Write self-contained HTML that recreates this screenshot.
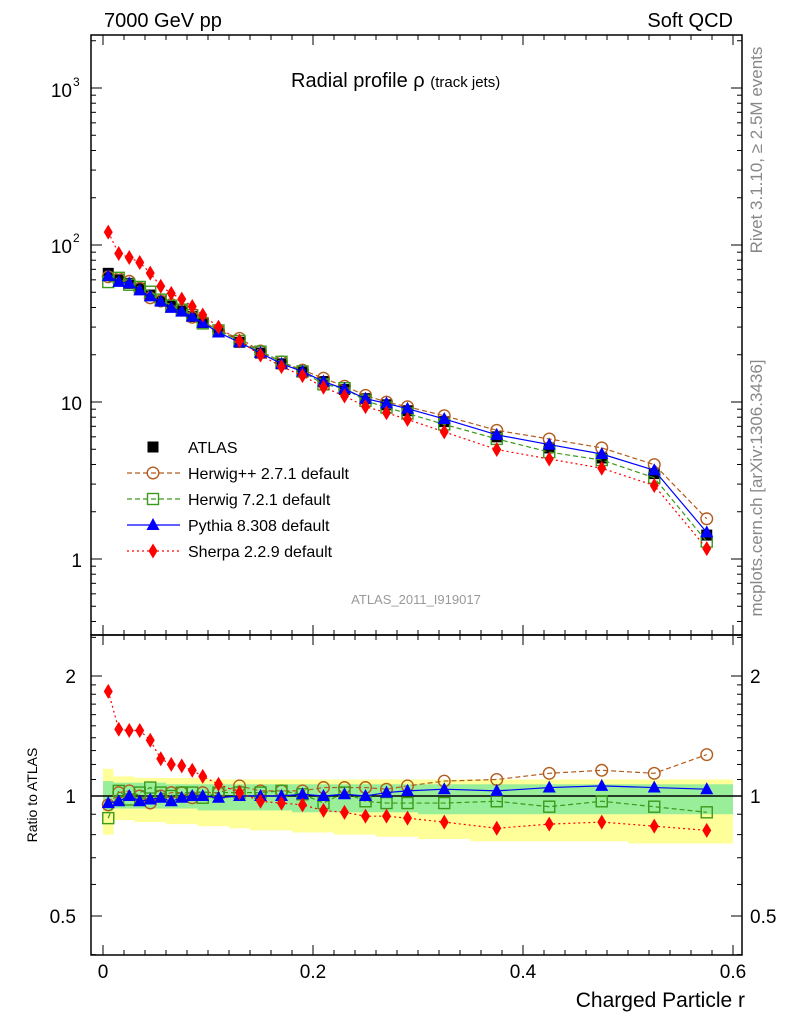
<!DOCTYPE html>
<html><head><meta charset="utf-8"><style>
body{margin:0;background:#fff;}
svg{display:block;font-family:"Liberation Sans",sans-serif;}
</style></head><body>
<svg id="c" width="786" height="1024" xmlns="http://www.w3.org/2000/svg"></svg>
<script>
const xs=[0.005,0.015,0.025,0.035,0.045,0.055,0.065,0.075,0.085,0.095,0.11,0.13,0.15,0.17,0.19,0.21,0.23,0.25,0.27,0.29,0.325,0.375,0.425,0.475,0.525,0.575];
const edges=[0,0.01,0.02,0.03,0.04,0.05,0.06,0.07,0.08,0.09,0.1,0.12,0.14,0.16,0.18,0.2,0.22,0.24,0.26,0.28,0.3,0.35,0.4,0.45,0.5,0.55,0.6];
const atlas=[66,60,57,53,48,44,41,38,35,32,28,24,20.5,17.5,15.5,13.5,12,10.5,9.6,8.8,7.5,6.0,5.1,4.4,3.5,1.42];
const rHpp=[0.95,1.02,1.03,1.0,0.96,1.0,1.02,1.02,0.99,1.02,1.02,1.06,1.03,1.03,1.03,1.05,1.05,1.05,1.04,1.06,1.09,1.1,1.14,1.16,1.14,1.27];
const rH7=[0.88,1.03,0.98,1.02,1.05,1.02,1.0,1.02,1.02,0.99,1.02,1.02,1.02,1.03,1.01,0.96,1.02,0.97,0.96,0.96,0.96,0.97,0.94,0.97,0.94,0.91];
const rPy=[0.96,0.97,1.0,0.97,0.98,0.99,0.97,0.99,1.0,1.0,0.99,1.0,1.0,1.0,1.01,1.0,1.01,1.0,1.02,1.03,1.04,1.03,1.05,1.06,1.05,1.04];
const rSh=[1.83,1.47,1.46,1.46,1.38,1.24,1.2,1.19,1.16,1.12,1.07,1.02,0.97,0.96,0.95,0.92,0.91,0.89,0.89,0.88,0.86,0.83,0.85,0.86,0.84,0.82];
const yHi=[1.17,1.12,1.12,1.11,1.11,1.11,1.11,1.11,1.11,1.11,1.1,1.1,1.1,1.1,1.1,1.1,1.1,1.1,1.1,1.1,1.1,1.1,1.1,1.1,1.1,1.1];
const yLo=[0.80,0.87,0.87,0.86,0.86,0.86,0.85,0.85,0.85,0.84,0.84,0.83,0.82,0.82,0.81,0.81,0.80,0.80,0.79,0.79,0.78,0.77,0.77,0.77,0.76,0.76];
const gHi=[1.09,1.08,1.08,1.08,1.08,1.08,1.07,1.07,1.07,1.07,1.07,1.07,1.07,1.07,1.07,1.07,1.07,1.07,1.07,1.07,1.07,1.07,1.07,1.07,1.07,1.07];
const gLo=[0.92,0.93,0.93,0.93,0.93,0.93,0.93,0.93,0.93,0.92,0.92,0.92,0.92,0.92,0.91,0.91,0.91,0.91,0.91,0.91,0.9,0.9,0.9,0.9,0.9,0.9];
const xTicks=[0,0.2,0.4,0.6];
const xTickLabels=["0","0.2","0.4","0.6"];

const NS="http://www.w3.org/2000/svg";
const svg=document.getElementById('c');
const L=91,R=742,T1=35,B1=635,T2=635,B2=955;
const X=v=>103+v*1050;
const Y1=v=>559-157*Math.log10(v);
const Y2=v=>796-120*Math.log2(v);
function el(t,a,p){const e=document.createElementNS(NS,t);for(const k in a)e.setAttribute(k,a[k]);(p||svg).appendChild(e);return e;}
function txt(s,x,y,size,anchor,extra){const e=el('text',Object.assign({x:x,y:y,'font-size':size,'text-anchor':anchor||'start',fill:'#000'},extra||{}));e.textContent=s;return e;}

const bands=el('g',{});


xs.forEach((x,i)=>{
  const x0=X(edges[i]),x1=X(edges[i+1]);
  el('rect',{x:x0,y:Y2(yHi[i]),width:x1-x0,height:Y2(yLo[i])-Y2(yHi[i]),fill:'#ffff99'},bands);
});
xs.forEach((x,i)=>{
  const x0=X(edges[i]),x1=X(edges[i+1]);
  el('rect',{x:x0,y:Y2(gHi[i]),width:x1-x0,height:Y2(gLo[i])-Y2(gHi[i]),fill:'#99ee99'},bands);
});
el('line',{x1:L,x2:R,y1:Y2(1),y2:Y2(1),stroke:'#000','stroke-width':1.5});

el('rect',{x:L,y:T1,width:R-L,height:B1-T1,fill:'none',stroke:'#000','stroke-width':1.5});
el('rect',{x:L,y:T2,width:R-L,height:B2-T2,fill:'none',stroke:'#000','stroke-width':1.5});

for(let v=0;v<=0.6001;v+=0.02){
  const major=Math.abs(v*10-Math.round(v*10))<1e-6 && Math.round(v*10)%2===0;
  const len=major?10:5;
  [[B1,-1],[T1,1],[B2,-1],[T2,1]].forEach(([y,d])=>el('line',{x1:X(v),x2:X(v),y1:y,y2:y+d*len,stroke:'#000'}));
}
xTicks.forEach((v,i)=>{const t=txt(xTickLabels[i],X(v),978,19,'middle');
});

for(let d=-1;d<=3;d++){for(let m=1;m<10;m++){const v=m*Math.pow(10,d);const y=Y1(v);if(y<T1||y>B1)continue;
  const len=m===1?11:5;el('line',{x1:L,x2:L+len,y1:y,y2:y,stroke:'#000'});el('line',{x1:R,x2:R-len,y1:y,y2:y,stroke:'#000'});}}
txt('1',82,567,19,'end');txt('10',82,410,19,'end');
txt('10',72,253,19,'end');txt('2',73,242,12,'start');
txt('10',72,97,19,'end');txt('3',73,86,12,'start');

[0.4,0.5,0.6,0.7,0.8,0.9,1,1.1,1.2,1.3,1.4,1.5,1.6,1.7,1.8,1.9,2,2.5].forEach(v=>{const y=Y2(v);if(y<T2||y>B2)return;
  const len=(v===0.5||v===1||v===2)?11:5;el('line',{x1:L,x2:L+len,y1:y,y2:y,stroke:'#000'});el('line',{x1:R,x2:R-len,y1:y,y2:y,stroke:'#000'});});
[[0.5,'0.5'],[1,'1'],[2,'2']].forEach(([v,s])=>{txt(s,76,Y2(v)+7,19,'end');txt(s,750,Y2(v)+7,19,'start');});

txt('7000 GeV pp',104,27,20,'start',{});
txt('Soft QCD',733,27,20,'end',{});
const tt=el('text',{x:291,y:87,'font-size':20,fill:'#000'});
tt.innerHTML='Radial profile ρ <tspan font-size="15">(track jets)</tspan>';
txt('ATLAS_2011_I919017',416,604,13,'middle',{fill:'#999',});
txt('Charged Particle r',745,1007,21,'end',{});
txt('Ratio to ATLAS',37,795,14,'middle',{transform:'rotate(-90 37 795)',});
txt('Rivet 3.1.10, ≥ 2.5M events',762,150,17,'middle',{fill:'#888',transform:'rotate(-90 762 150)',});
txt('mcplots.cern.ch [arXiv:1306.3436]',762,488,17,'middle',{fill:'#888',transform:'rotate(-90 762 488)',});

function marker(kind,x,y,col,g){
  if(kind==='sq')el('rect',{x:x-5.5,y:y-5.5,width:11,height:11,fill:col},g);
  if(kind==='osq')el('rect',{x:x-5.5,y:y-5.5,width:11,height:11,fill:'none',stroke:col,'stroke-width':1.4},g);
  if(kind==='oc')el('circle',{cx:x,cy:y,r:5.8,fill:'none',stroke:col,'stroke-width':1.4},g);
  if(kind==='tri')el('polygon',{points:`${x},${y-7} ${x-6.5},${y+5} ${x+6.5},${y+5}`,fill:col},g);
  if(kind==='dia')el('polygon',{points:`${x},${y-7.5} ${x-4.5},${y} ${x},${y+7.5} ${x+4.5},${y}`,fill:col},g);
}
const series=[
 {name:'herwigpp',r:rHpp,col:'#b35c1e',kind:'oc',dash:'5,3',label:'Herwig++ 2.7.1 default'},
 {name:'herwig7',r:rH7,col:'#3a9a1a',kind:'osq',dash:'5,3',label:'Herwig 7.2.1 default'},
 {name:'pythia',r:rPy,col:'#0000ff',kind:'tri',dash:'',label:'Pythia 8.308 default'},
 {name:'sherpa',r:rSh,col:'#ff0000',kind:'dia',dash:'2,3',label:'Sherpa 2.2.9 default'}
];
const ga=el('g',{});
xs.forEach((x,i)=>marker('sq',X(x),Y1(atlas[i]),'#000',ga));
series.forEach(s=>{
  const g=el('g',{});
  const pm=xs.map((x,i)=>X(x)+','+Y1(atlas[i]*s.r[i])).join(' ');
  const pr=xs.map((x,i)=>X(x)+','+Y2(s.r[i])).join(' ');
  el('polyline',{points:pm,fill:'none',stroke:s.col,'stroke-width':1.2,'stroke-dasharray':s.dash},g);
  el('polyline',{points:pr,fill:'none',stroke:s.col,'stroke-width':1.2,'stroke-dasharray':s.dash},g);
  xs.forEach((x,i)=>{marker(s.kind,X(x),Y1(atlas[i]*s.r[i]),s.col,g);marker(s.kind,X(x),Y2(s.r[i]),s.col,g);});
});
const lg=el('g',{});
marker('sq',153,447,'#000',lg);txt('ATLAS',188,453,16,'start');
series.forEach((s,i)=>{const y=473+i*26;
  el('line',{x1:127,x2:180,y1:y,y2:y,stroke:s.col,'stroke-width':1.2,'stroke-dasharray':s.dash},lg);
  marker(s.kind,153,y,s.col,lg);
  const t=txt(s.label,188,y+6,16,'start');});
</script>
</body></html>
